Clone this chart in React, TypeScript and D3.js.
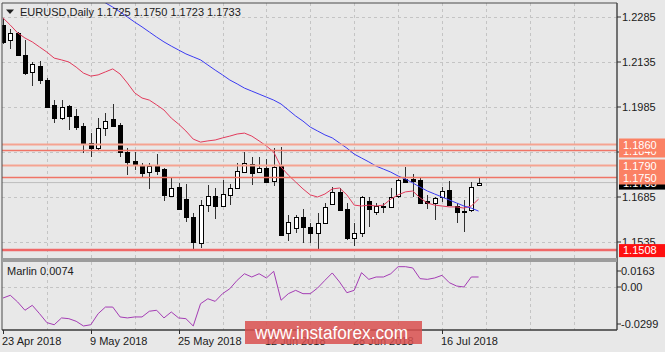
import * as d3 from 'd3';

// EURUSD daily bars, 23 Apr 2018 .. 23 Jul 2018
const opens = [1.2258, 1.2208, 1.2232, 1.2158, 1.2102, 1.2122, 1.2075, 1.1992, 1.1948, 1.1988, 1.1955, 1.1922, 1.1865, 1.1848, 1.1915, 1.1945, 1.1925, 1.1835, 1.1805, 1.1792, 1.1768, 1.1788, 1.1778, 1.1688, 1.1718, 1.1678, 1.1618, 1.1532, 1.1658, 1.1688, 1.1655, 1.1692, 1.1715, 1.1768, 1.1795, 1.1768, 1.1782, 1.1738, 1.1788, 1.1565, 1.1582, 1.1618, 1.1585, 1.1565, 1.1598, 1.1662, 1.1702, 1.1645, 1.1548, 1.1565, 1.1672, 1.1635, 1.1652, 1.1652, 1.1688, 1.1745, 1.1745, 1.1742, 1.1672, 1.1665, 1.1685, 1.1708, 1.1655, 1.1638, 1.1642, 1.1725];
const highs = [1.2282, 1.2245, 1.2235, 1.2208, 1.2135, 1.2138, 1.2082, 1.2008, 1.2008, 1.1992, 1.1978, 1.1932, 1.1898, 1.1948, 1.1965, 1.1995, 1.1932, 1.1848, 1.1835, 1.1798, 1.1798, 1.1828, 1.1782, 1.1748, 1.1732, 1.1728, 1.1632, 1.1675, 1.1725, 1.1715, 1.1742, 1.1728, 1.1798, 1.1835, 1.1818, 1.1818, 1.1812, 1.1848, 1.1852, 1.1625, 1.1625, 1.1645, 1.1598, 1.1632, 1.1665, 1.1718, 1.1715, 1.1665, 1.1598, 1.1688, 1.1685, 1.1665, 1.1665, 1.1715, 1.1745, 1.1785, 1.1762, 1.1748, 1.1692, 1.1685, 1.1718, 1.1738, 1.1665, 1.1675, 1.1735, 1.1750];
const lows = [1.2195, 1.2178, 1.2155, 1.2092, 1.2055, 1.2062, 1.1982, 1.1932, 1.1942, 1.1908, 1.1908, 1.1832, 1.1818, 1.1838, 1.1888, 1.1918, 1.1818, 1.1758, 1.1775, 1.1752, 1.1712, 1.1758, 1.1672, 1.1688, 1.1642, 1.1602, 1.1508, 1.1515, 1.1635, 1.1612, 1.1652, 1.1658, 1.1712, 1.1765, 1.1725, 1.1765, 1.1732, 1.1722, 1.1555, 1.1538, 1.1565, 1.1532, 1.1532, 1.1508, 1.1595, 1.1658, 1.1638, 1.1542, 1.1522, 1.1552, 1.1585, 1.1625, 1.1632, 1.1648, 1.1682, 1.1732, 1.1685, 1.1662, 1.1645, 1.1608, 1.1668, 1.1655, 1.1598, 1.1568, 1.1635, 1.1723];
const closes = [1.2202, 1.2232, 1.2158, 1.2098, 1.2128, 1.2075, 1.1985, 1.1948, 1.1985, 1.1955, 1.1918, 1.1862, 1.1848, 1.1915, 1.1938, 1.1922, 1.1835, 1.1802, 1.1792, 1.1765, 1.1788, 1.1772, 1.1692, 1.1715, 1.1645, 1.1618, 1.1535, 1.1658, 1.1688, 1.1655, 1.1695, 1.1715, 1.1772, 1.1798, 1.1765, 1.1782, 1.1735, 1.1785, 1.1558, 1.1602, 1.1618, 1.1585, 1.1565, 1.1598, 1.1652, 1.1702, 1.1642, 1.1548, 1.1565, 1.1685, 1.1645, 1.1655, 1.1655, 1.1685, 1.1742, 1.1735, 1.1738, 1.1665, 1.1665, 1.1682, 1.1705, 1.1658, 1.1635, 1.1635, 1.1718, 1.1733];

// moving averages
const redMA = [1.2282, 1.2258, 1.2232, 1.2215, 1.2202, 1.2185, 1.2168, 1.2148, 1.2142, 1.2135, 1.2118, 1.2098, 1.2088, 1.2092, 1.2102, 1.2112, 1.2095, 1.2065, 1.2032, 1.2015, 1.2008, 1.1992, 1.1975, 1.1948, 1.1928, 1.1905, 1.1878, 1.1868, 1.1872, 1.1875, 1.1882, 1.1888, 1.1895, 1.1898, 1.1888, 1.1872, 1.1855, 1.1835, 1.1785, 1.1758, 1.1735, 1.1712, 1.1692, 1.1685, 1.1695, 1.1712, 1.1715, 1.1692, 1.1658, 1.1655, 1.1658, 1.1655, 1.1658, 1.1678, 1.1692, 1.1702, 1.1705, 1.1682, 1.1665, 1.1658, 1.1655, 1.1652, 1.1652, 1.1648, 1.1655, 1.1678];
const blueStart = 13;
const blueMA = [1.2342, 1.2332, 1.2318, 1.2302, 1.2285, 1.2268, 1.2252, 1.2235, 1.2218, 1.2202, 1.2188, 1.2175, 1.2162, 1.2152, 1.2142, 1.2125, 1.2108, 1.2092, 1.2075, 1.2062, 1.2048, 1.2038, 1.2028, 1.2018, 1.2008, 1.1995, 1.1975, 1.1955, 1.1938, 1.1918, 1.1905, 1.1892, 1.1882, 1.1865, 1.1848, 1.1828, 1.1815, 1.1802, 1.1788, 1.1778, 1.1768, 1.1755, 1.1745, 1.1732, 1.1718, 1.1705, 1.1695, 1.1685, 1.1675, 1.1665, 1.1655, 1.1648, 1.1638];

const marlin = [-0.0089, -0.0067, -0.0121, -0.0188, -0.0148, -0.0216, -0.0288, -0.0305, -0.025, -0.0256, -0.0277, -0.0315, -0.0305, -0.0216, -0.0162, -0.0162, -0.0242, -0.025, -0.0242, -0.0242, -0.0196, -0.0188, -0.025, -0.0202, -0.025, -0.0256, -0.0315, -0.0135, -0.0095, -0.0116, -0.0054, -0.0014, 0.0068, 0.0135, 0.0102, 0.0135, 0.0092, 0.016, -0.0107, -0.0054, -0.0027, -0.0054, -0.0054, -0.0008, 0.0068, 0.0143, 0.0051, -0.0046, -0.0027, 0.0146, 0.0078, 0.0102, 0.0102, 0.0135, 0.0207, 0.0207, 0.0194, 0.0085, 0.0078, 0.0092, 0.0119, 0.0044, 0.001, 0.0, 0.0102, 0.0102];

const dateLabels = ['23 Apr 2018', '9 May 2018', '25 May 2018', '12 Jun 2018', '28 Jun 2018', '16 Jul 2018'];
const dateBars = [0, 12, 24, 36, 48, 60];
const priceTicks = [1.2285, 1.2135, 1.1985, 1.1835, 1.1685, 1.1535];
const marlinTicks = [0.0163, 0, -0.0299];
const marlinTickLabels = ['0.0163', '0.00', '-0.0299'];
const levels = [1.186, 1.184, 1.179, 1.175, 1.1508];
const levelLabels = ['1.1860', '1.1840', '1.1790', '1.1750', '1.1508'];
const bid = 1.1733;
const title = 'EURUSD,Daily  1.1725 1.1750 1.1723 1.1733';
const marlinLabel = 'Marlin 0.0074';

const W = 665;
const H = 352;
const L = 2;
const R = 617;
const mainTop = 3;
const mainBottom = 258;
const indTop = 262;
const indBottom = 330;
const font = '"Liberation Sans", Arial, sans-serif';

// level line / label styling, same order as levels
const levelLine = [
    { stroke: '#f5a391', width: 2 },
    { stroke: '#f07466', width: 1.5 },
    { stroke: '#f5a391', width: 2 },
    { stroke: '#f07466', width: 1.5 },
    { stroke: '#f06868', width: 2.5 },
];
const levelBox = ['#fb8164', '#fb8164', '#fb8164', '#fb8164', '#ff1010'];

export default function App() {
    const x = d3.scaleLinear().domain([0, 60]).range([3, 442]);
    const y = d3.scaleLinear().domain([1.1535, 1.2285]).range([242, 17]);
    const m = d3.scaleLinear().domain([-0.0299, 0, 0.0163]).range([324, 287, 271]);

    const px = (i: number) => Math.round(x(i)) + 0.5;
    const gridBars = d3.range(6, 84, 6);

    const priceLine = d3
        .line<number>()
        .x((_, i) => x(i))
        .y((d) => y(d));
    const blueLine = d3
        .line<number>()
        .x((_, i) => x(i + blueStart))
        .y((d) => y(d));
    const marlinLine = d3
        .line<number>()
        .x((_, i) => x(i))
        .y((d) => m(d));

    // draw order for right-side boxes: lower one first so the upper one overlaps it
    const boxOrder = [1, 0, 2, 3, 4];

    return (
        <svg
            width={W}
            height={H}
            style={{ position: 'absolute', left: 0, top: 0, background: '#e8e8e8' }}
            fontFamily={font}
        >
            <defs>
                <clipPath id="mainClip">
                    <rect x={L} y={mainTop} width={R - L} height={mainBottom - mainTop} />
                </clipPath>
                <clipPath id="indClip">
                    <rect x={L} y={indTop} width={R - L} height={indBottom - indTop} />
                </clipPath>
            </defs>
            <rect width={W} height={H} fill="#e8e8e8" />

            {/* grid */}
            <g stroke="#c4c4c4" strokeDasharray="3,3" strokeWidth={1}>
                {gridBars.map((b) => (
                    <g key={b}>
                        <line x1={px(b)} x2={px(b)} y1={mainTop} y2={mainBottom} />
                        <line x1={px(b)} x2={px(b)} y1={indTop} y2={indBottom} />
                    </g>
                ))}
                {priceTicks.map((p) => (
                    <line key={p} x1={L} x2={R} y1={Math.round(y(p)) + 0.5} y2={Math.round(y(p)) + 0.5} />
                ))}
                <line x1={L} x2={R} y1={Math.round(m(0)) + 0.5} y2={Math.round(m(0)) + 0.5} />
            </g>

            {/* price panel */}
            <g clipPath="url(#mainClip)">
                <line x1={L} x2={R} y1={y(bid)} y2={y(bid)} stroke="#bcbcbc" strokeWidth={1} />
                {opens.map((o, i) => {
                    const c = closes[i];
                    const top = Math.round(y(Math.max(o, c)));
                    const bot = Math.round(y(Math.min(o, c)));
                    const up = c >= o;
                    return (
                        <g key={i}>
                            <line
                                x1={px(i)}
                                x2={px(i)}
                                y1={Math.round(y(highs[i]))}
                                y2={Math.round(y(lows[i]))}
                                stroke="#303030"
                                strokeWidth={1}
                            />
                            <rect
                                x={px(i) - 2}
                                y={top + 0.5}
                                width={4}
                                height={Math.max(1, bot - top)}
                                fill={up ? '#ffffff' : '#000000'}
                                stroke="#000000"
                                strokeWidth={1}
                            />
                        </g>
                    );
                })}
                <path d={priceLine(redMA) ?? ''} fill="none" stroke="#e23b5c" strokeWidth={1} />
                <path d={blueLine(blueMA) ?? ''} fill="none" stroke="#3b3bf2" strokeWidth={1} />
                {levels.map((v, i) => (
                    <line
                        key={v}
                        x1={L}
                        x2={R}
                        y1={y(v)}
                        y2={y(v)}
                        stroke={levelLine[i].stroke}
                        strokeWidth={levelLine[i].width}
                    />
                ))}
            </g>

            {/* indicator panel */}
            <g clipPath="url(#indClip)">
                <path d={marlinLine(marlin) ?? ''} fill="none" stroke="#a43cb4" strokeWidth={1} />
            </g>
            <text x={7} y={275} fontSize={11} fill="#202020">
                {marlinLabel}
            </text>

            {/* frames */}
            <line x1={L} x2={R} y1={mainTop} y2={mainTop} stroke="#4a4a4a" strokeWidth={1} />
            <line x1={L} x2={L} y1={mainTop} y2={indBottom} stroke="#4a4a4a" strokeWidth={1} />
            <line x1={R} x2={R} y1={mainTop} y2={indBottom} stroke="#4a4a4a" strokeWidth={1.5} />
            <rect x={L} y={mainBottom} width={R - L} height={indTop - mainBottom} fill="#9c9c9c" />
            <line x1={L} x2={R} y1={indBottom} y2={indBottom} stroke="#3a3a3a" strokeWidth={1.5} />

            {/* right price axis */}
            <g fontSize={11} fill="#202020">
                {priceTicks.map((p) => (
                    <g key={p}>
                        <line x1={R} x2={R + 4} y1={y(p)} y2={y(p)} stroke="#303030" />
                        <text x={622} y={y(p) + 4}>
                            {p.toFixed(4)}
                        </text>
                    </g>
                ))}
                {marlinTicks.map((v, i) => (
                    <g key={v}>
                        <line x1={R} x2={R + 4} y1={m(v)} y2={m(v)} stroke="#303030" />
                        <text x={621} y={m(v) + 4}>
                            {marlinTickLabels[i]}
                        </text>
                    </g>
                ))}
            </g>

            {/* right-side price labels */}
            <g fontSize={11}>
                <rect x={619} y={y(bid) - 6} width={46} height={13} fill="#000000" />
                <text x={623} y={y(bid) + 4} fill="#ffffff">
                    {bid.toFixed(4)}
                </text>
                {boxOrder.map((i) => (
                    <g key={i}>
                        <rect x={619} y={y(levels[i]) - 6} width={46} height={13} fill={levelBox[i]} />
                        <text x={623} y={y(levels[i]) + 4} fill="#ffffff">
                            {levelLabels[i]}
                        </text>
                    </g>
                ))}
            </g>

            {/* date axis */}
            <g fontSize={11} fill="#202020">
                {dateBars.map((b, i) => (
                    <g key={b}>
                        <line x1={px(b)} x2={px(b)} y1={indBottom} y2={indBottom + 4} stroke="#303030" />
                        <text x={Math.round(x(b)) - 1} y={345}>
                            {dateLabels[i]}
                        </text>
                    </g>
                ))}
            </g>

            {/* title */}
            <polygon points="6,9.5 14,9.5 10,14" fill="#202020" />
            <text x={20} y={16} fontSize={11} fill="#202020">
                {title}
            </text>

            {/* watermark */}
            <rect x={245} y={321} width={177} height={23} fill="#d9504f" opacity={0.85} />
            <text x={255} y={339} fontSize={18} fill="#ffffff" textLength={153} lengthAdjust="spacingAndGlyphs">
                www.instaforex.com
            </text>
        </svg>
    );
}
